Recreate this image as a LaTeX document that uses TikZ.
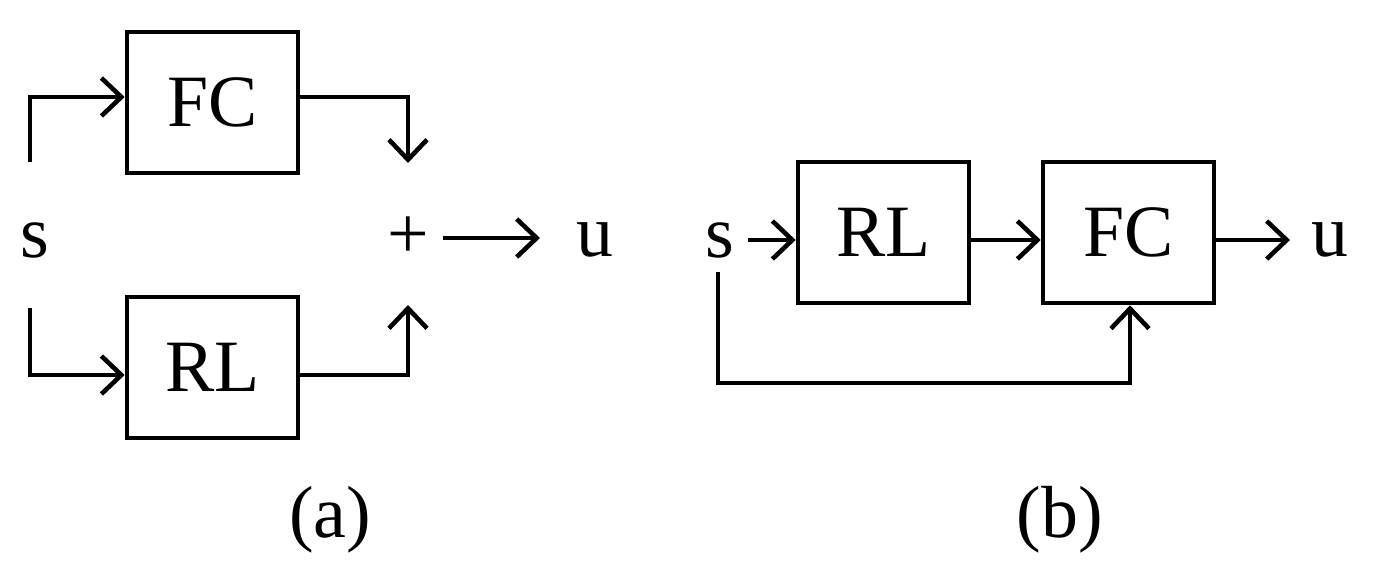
\documentclass[tikz,border=0pt]{standalone}
\usepackage{fontspec}
\setmainfont{Liberation Serif}
\usetikzlibrary{arrows.meta,positioning}
\tikzset{
  block/.style={draw, line width=1.3pt, minimum width=1.71cm, minimum height=1.41cm, inner sep=0pt, font=\fontsize{21}{25}\selectfont},
  sig/.style={inner sep=0pt, font=\fontsize{21}{25}\selectfont},
  wire/.style={line width=1.3pt},
  flow/.style={-{Straight Barb[length=2mm, width=3.8mm, line width=1.3pt]}, line width=1.3pt}
}
\begin{document}
\begin{tikzpicture}[x=1cm,y=1cm]
  \useasboundingbox (0,0) rectangle (13.76,5.76);

  % (a) parallel
  \node[block] (fca) at (2.125,4.735) {FC};
  \node[block] (rla) at (2.125,2.085) {RL};
  \node[sig] (sa) at (0.35,3.36) {s};
  \node[sig] (plus) at (4.08,3.38) {+};
  \node[sig] (ua) at (5.95,3.36) {u};
  \node[sig] (capa) at (3.30,0.56) {(a)};

  \coordinate (sa1) at (0.30,4.14);
  \coordinate (sa2) at (0.30,2.68);
  \coordinate (fcin) at (2.125,4.79);
  \coordinate (rlin) at (2.125,2.01);
  \coordinate (sumtop) at (4.08,4.13);
  \coordinate (sumbot) at (4.08,2.71);
  \coordinate (outa) at (5.40,3.38);

  \draw[flow] (sa1) |- (fca.west |- fcin);
  \draw[flow] (sa2) |- (rla.west |- rlin);
  \draw[flow] (fca.east |- fcin) -| (sumtop);
  \draw[flow] (rla.east |- rlin) -| (sumbot);
  \draw[flow] ([xshift=0.13cm]plus.east) -- (outa);

  % (b) series
  \node[block] (rlb) at (8.835,3.435) {RL};
  \node[block] (fcb) at (11.285,3.435) {FC};
  \node[sig] (sb) at (7.20,3.36) {s};
  \node[sig] (ub) at (13.30,3.36) {u};
  \node[sig] (capb) at (10.60,0.56) {(b)};

  \coordinate (sb1) at (7.18,3.04);
  \coordinate (fb) at (7.18,1.93);
  \coordinate (outb) at (12.90,3.36);

  \draw[flow] ([xshift=0.13cm]sb.east |- outb) -- (rlb.west |- outb);
  \draw[flow] (rlb.east |- outb) -- (fcb.west |- outb);
  \draw[flow] (fcb.east |- outb) -- (outb);
  \draw[flow] (sb1) |- ([xshift=0.15mm]fcb.south |- fb) -- ([xshift=0.15mm]fcb.south);
\end{tikzpicture}
\end{document}
